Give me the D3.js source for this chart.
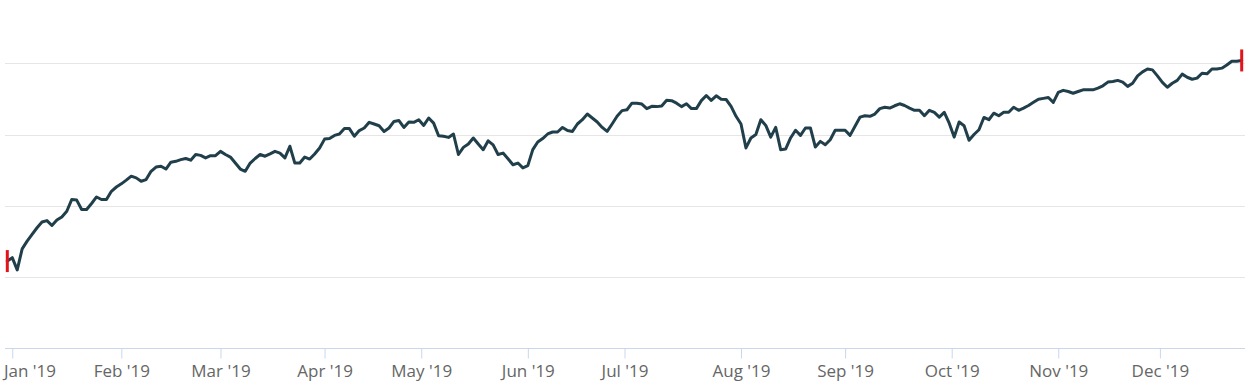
<!DOCTYPE html>
<html>
<head>
<meta charset="utf-8">
<script src="https://cdn.jsdelivr.net/npm/d3@7.9.0/dist/d3.min.js"></script>
<style>
  html, body { margin: 0; padding: 0; background: #fff; }
  svg { display: block; }
</style>
</head>
<body>
<div id="chart"></div>
<script>
// Daily closes, one value per trading day
const closes = [
  2556, 2568, 2525, 2599, 2626, 2650, 2673, 2693, 2698, 2681,
  2700, 2711, 2731, 2772, 2770, 2737, 2737, 2758, 2781, 2772,
  2772, 2801, 2816, 2827, 2840, 2854, 2848, 2836, 2842, 2871,
  2886, 2889, 2879, 2903, 2906, 2912, 2916, 2910, 2930, 2927,
  2918, 2926, 2926, 2941, 2930, 2921, 2900, 2879, 2871, 2900,
  2916, 2930, 2924, 2932, 2941, 2935, 2918, 2959, 2900, 2900,
  2921, 2914, 2932, 2953, 2984, 2986, 2997, 3002, 3021, 3021,
  2994, 3014, 3023, 3043, 3037, 3031, 3011, 3023, 3046, 3049,
  3025, 3044, 3043, 3052, 3032, 3058, 3040, 2996, 2994, 2990,
  3002, 2930, 2955, 2967, 2988, 2967, 2947, 2978, 2964, 2930,
  2935, 2915, 2894, 2900, 2883, 2891, 2947, 2974, 2986, 3002,
  3009, 3009, 3025, 3014, 3011, 3037, 3052, 3072, 3058, 3044,
  3025, 3011, 3037, 3064, 3084, 3087, 3110, 3110, 3107, 3091,
  3099, 3098, 3100, 3120, 3119, 3110, 3098, 3108, 3091, 3091,
  3119, 3137, 3120, 3136, 3124, 3123, 3099, 3064, 3037, 2953,
  2988, 3000, 3052, 3032, 2991, 3025, 2947, 2949, 2988, 3015,
  2997, 3023, 3023, 2956, 2976, 2964, 2982, 3015, 3015, 3015,
  2997, 3029, 3061, 3066, 3064, 3072, 3091, 3096, 3093, 3101,
  3108, 3102, 3093, 3085, 3085, 3066, 3085, 3078, 3061, 3078,
  3040, 2991, 3044, 3031, 2980, 3000, 3017, 3060, 3052, 3075,
  3066, 3078, 3078, 3096, 3085, 3093, 3102, 3113, 3124, 3127,
  3130, 3113, 3148, 3155, 3151, 3145, 3151, 3157, 3157, 3157,
  3163, 3171, 3184, 3186, 3190, 3184, 3169, 3180, 3206, 3220,
  3230, 3227, 3206, 3183, 3166, 3180, 3190, 3212, 3201, 3194,
  3198, 3215, 3213, 3230, 3230, 3233, 3244, 3257, 3257, 3260
];

// Month tick labels and the trading-day index where each month starts
const monthLabels = ["Jan '19", "Feb '19", "Mar '19", "Apr '19", "May '19", "Jun '19",
                     "Jul '19", "Aug '19", "Sep '19", "Oct '19", "Nov '19", "Dec '19"];
const monthStart = [1, 23, 43, 64, 83.5, 105, 124.5, 148, 169, 190.5, 212, 232.5];

// Value gridlines
const yTicks = [2500, 2750, 3000, 3250];
const yMin = 2250;

const width = 1245;
const height = 390;

const svg = d3.select("#chart")
  .append("svg")
  .attr("width", width)
  .attr("height", height);

const plotLeft = 5;
const plotRight = 1245;

const x = d3.scaleLinear()
  .domain([0, closes.length - 1])
  .range([7.3, 1241.7]);

const y = d3.scaleLinear()
  .domain([yMin, 3250])
  .range([348.3, 63.3]);

// gridlines
svg.append("g")
  .selectAll("line")
  .data(yTicks)
  .join("line")
  .attr("x1", plotLeft)
  .attr("x2", plotRight)
  .attr("y1", d => Math.round(y(d)) + 0.5)
  .attr("y2", d => Math.round(y(d)) + 0.5)
  .attr("stroke", "#e6e6e6")
  .attr("stroke-width", 1);

// x axis (baseline + ticks + labels)
const axisY = Math.round(y(yMin)) + 0.5;

const xAxis = d3.axisBottom(x)
  .tickValues(monthStart)
  .tickFormat((d, i) => monthLabels[i])
  .tickSize(10)
  .tickPadding(6)
  .tickSizeOuter(0);

const gx = svg.append("g")
  .attr("transform", `translate(0,${axisY})`)
  .call(xAxis);

gx.select(".domain")
  .attr("d", `M${plotLeft},0H${plotRight}`)
  .attr("stroke", "#ccd6eb");

gx.selectAll(".tick line")
  .attr("stroke", "#ccd6eb");

gx.selectAll(".tick text")
  .attr("fill", "#666666")
  .style("font-family", "'Open Sans', sans-serif")
  .style("font-size", "17px");

// keep the first label inside the chart (shift it right like the original)
gx.selectAll(".tick text").each(function () {
  const t = d3.select(this);
  const tick = d3.select(this.parentNode);
  const tx = +tick.attr("transform").match(/translate\(([-\d.]+)/)[1];
  const w = this.getComputedTextLength();
  if (tx - w / 2 < 4) {
    t.attr("text-anchor", "start").attr("x", 4 - tx);
  }
});

// price line
const line = d3.line()
  .x((d, i) => x(i))
  .y(d => y(d));

svg.append("path")
  .datum(closes)
  .attr("fill", "none")
  .attr("stroke", "#203f4b")
  .attr("stroke-width", 3)
  .attr("stroke-linejoin", "round")
  .attr("stroke-linecap", "round")
  .attr("d", line);

// red markers at first and last point
const ends = [0, closes.length - 1];
svg.append("g")
  .selectAll("line")
  .data(ends)
  .join("line")
  .attr("x1", i => x(i))
  .attr("x2", i => x(i))
  .attr("y1", i => y(closes[i]) - 11)
  .attr("y2", i => y(closes[i]) + 11)
  .attr("stroke", "#e3121b")
  .attr("stroke-width", 3);
</script>
</body>
</html>
